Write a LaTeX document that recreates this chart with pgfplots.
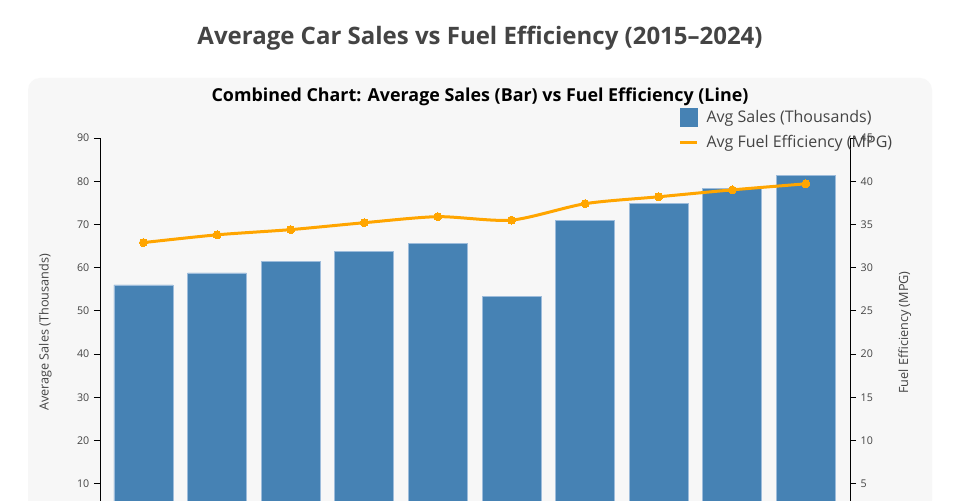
\documentclass[border=0pt]{standalone}
\usepackage{pgfplots}
\pgfplotsset{compat=1.18}
\usepackage{fontspec}
\setmainfont{Open Sans}

\definecolor{barblue}{HTML}{4682B4}
\definecolor{baredge}{HTML}{9DBCDB}
\definecolor{lineorange}{HTML}{FFA500}
\definecolor{panel}{HTML}{F7F7F7}
\definecolor{txtgray}{HTML}{444444}

% 1px of the reference = 0.75pt; page is 960x500 px
\pgfplotsset{
  twin/.style={
    scale only axis,
    width=562.5pt, height=291.75pt,
    at={(75pt,-20.25pt)}, anchor=south west,
    xmin=-0.59, xmax=9.6,
    axis x line=none,
    ymin=0,
    tick align=outside,
    major tick length=4.5pt,
    every tick/.style={black, line width=0.6pt},
    axis line style={black, line width=0.75pt},
    tick label style={font=\fontsize{8}{9}\selectfont, text=txtgray},
    /pgf/number format/assume math mode=true,
    label style={font=\fontsize{9.5}{11}\selectfont, text=txtgray},
  },
}

\begin{document}
\begin{tikzpicture}
\useasboundingbox (0,0) rectangle (720pt,375pt);
\clip (0,0) rectangle (720pt,375pt);
\fill[white] (0,0) rectangle (720pt,375pt);
\fill[panel, rounded corners=9pt] (21pt,-60pt) rectangle (699pt,316.5pt);

\node[font=\bfseries\fontsize{18}{21}\selectfont, text=txtgray] at (360pt,346.5pt)
  {Average Car Sales vs Fuel Efficiency (2015–2024)};
\node[font=\bfseries\fontsize{13.4}{16}\selectfont, text=black] at (360pt,302.25pt)
  {Combined Chart: Average Sales (Bar) vs Fuel Efficiency (Line)};

% left axis: sales
\begin{axis}[twin,
    ymax=90, ytick={10,20,...,90},
    axis y line*=left,
    ylabel={Average Sales (Thousands)},
    ylabel style={at={(axis description cs:-0.073,0.5)}, anchor=center, rotate=0},
]
\addplot[ybar, bar width=0.8, bar shift=0, fill=barblue, draw=baredge, line width=0.5pt]
  coordinates {
    (0,56.0) (1,58.8) (2,61.5) (3,63.8) (4,65.7)
    (5,53.4) (6,71.0) (7,74.9) (8,78.4) (9,81.4)
  };
\end{axis}

% right axis: fuel efficiency
\begin{axis}[twin,
    ymax=45, ytick={5,10,...,45},
    axis y line*=right,
    ylabel={Fuel Efficiency (MPG)},
    ylabel style={at={(axis description cs:1.073,0.5)}, anchor=center, rotate=0},
    legend style={at={(0.771,1.079)}, anchor=north west, draw=none, fill=none,
      font=\fontsize{12}{14}\selectfont, text=txtgray,
      row sep=4.5pt, inner sep=0pt,
      nodes={inner xsep=6pt}},
    legend cell align=left,
]
\addlegendimage{legend image code/.code={\fill[barblue] (0pt,-6.4pt) rectangle (12.75pt,6.4pt);}}
\addlegendentry{Avg Sales (Thousands)}
\addplot[lineorange, line width=2.25pt, smooth, tension=0.45,
    mark=*, mark size=3pt, mark options={fill=lineorange, draw=lineorange, line width=0pt},
    legend image code/.code={\draw[lineorange, line width=2.25pt] (0pt,0pt) -- (12.75pt,0pt);}]
  coordinates {
    (0,32.9) (1,33.8) (2,34.4) (3,35.2) (4,35.9)
    (5,35.5) (6,37.4) (7,38.2) (8,39.0) (9,39.7)
  };
\addlegendentry{Avg Fuel Efficiency (MPG)}
\end{axis}
\end{tikzpicture}
\end{document}
